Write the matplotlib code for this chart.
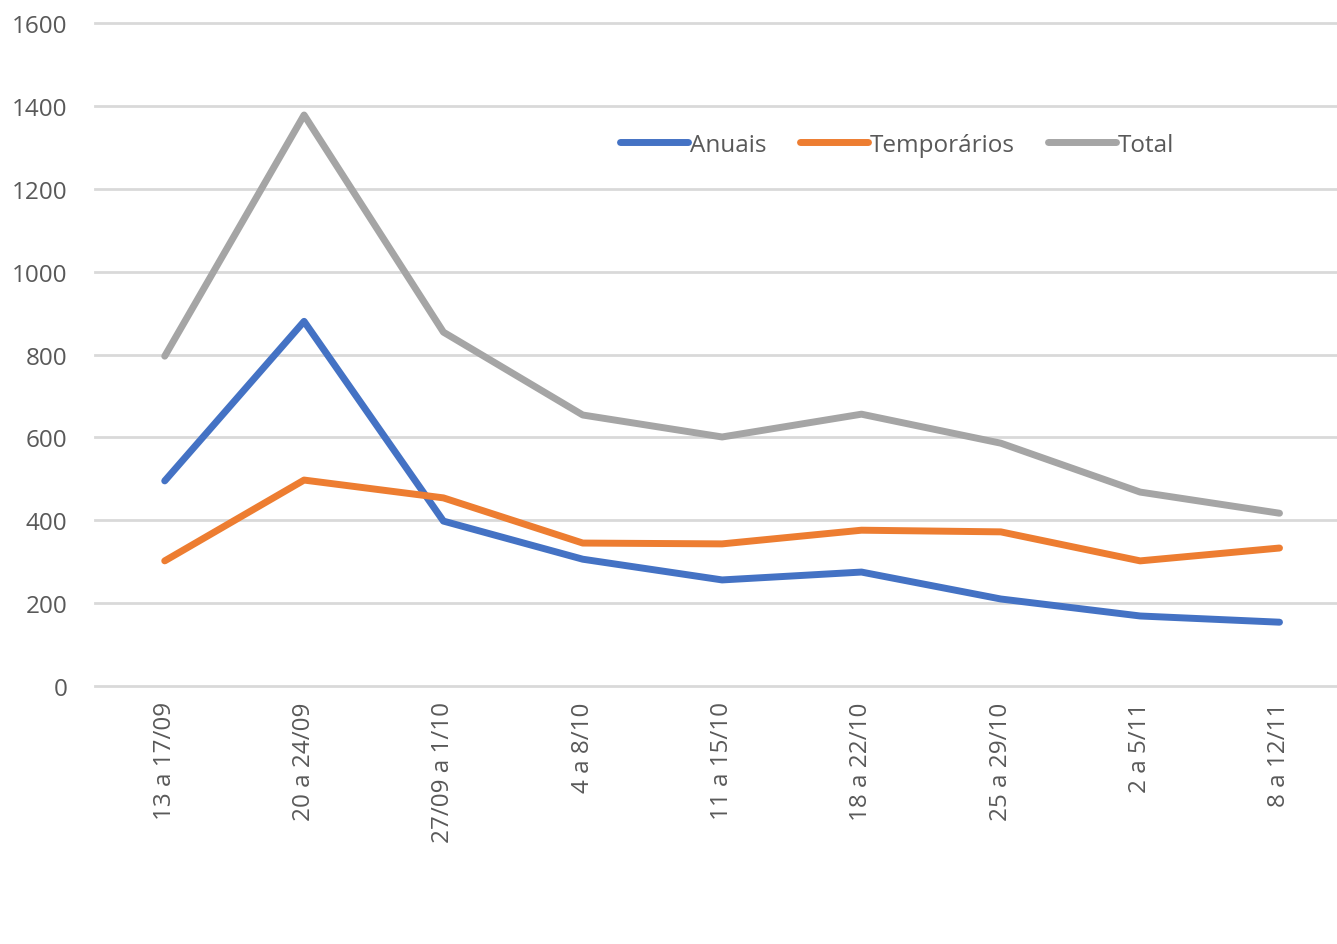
import matplotlib.pyplot as plt

# weekly data
semanas = ['13 a 17/09', '20 a 24/09', '27/09 a 1/10', '4 a 8/10', '11 a 15/10',
           '18 a 22/10', '25 a 29/10', '2 a 5/11', '8 a 12/11']
anuais = [495, 880, 398, 306, 256, 275, 210, 169, 154]
temporarios = [302, 497, 454, 345, 343, 376, 372, 302, 333]
total = [796, 1378, 854, 654, 601, 656, 586, 468, 417]

plt.rcParams['font.family'] = ['Open Sans', 'DejaVu Sans']
txt_color = '#595959'

fig = plt.figure(figsize=(13.37, 9.45), dpi=100)
ax = fig.add_axes([0.0711, 0.273, 0.938, 0.7016])

x = range(len(semanas))
ax.plot(x, anuais, color='#4472C4', lw=5, solid_capstyle='round', solid_joinstyle='round', label='Anuais', zorder=3)
ax.plot(x, temporarios, color='#ED7D31', lw=5, solid_capstyle='round', solid_joinstyle='round', label='Temporários', zorder=3)
ax.plot(x, total, color='#A5A5A5', lw=5, solid_capstyle='round', solid_joinstyle='round', label='Total', zorder=3)

ax.set_xlim(-0.5, len(semanas) - 0.5)
ax.set_ylim(0, 1600)
ax.set_yticks(range(0, 1601, 200))
ax.grid(axis='y', color='#D9D9D9', lw=2)
ax.set_axisbelow(True)
for gl in ax.get_ygridlines():
    gl.set_clip_on(False)
for s in ax.spines.values():
    s.set_visible(False)

ax.set_xticks(list(x))
ax.set_xticklabels(semanas, rotation=90, va='top')
ax.tick_params(axis='both', length=0, labelsize=17.5, labelcolor=txt_color)
ax.tick_params(axis='x', pad=11)
ax.tick_params(axis='y', pad=20)

leg = ax.legend(loc='center', bbox_to_anchor=(0.671, 0.846), bbox_transform=fig.transFigure,
                ncol=3, frameon=False, fontsize=17.5, handlelength=2.8, handletextpad=0.05,
                columnspacing=1.4)
for t in leg.get_texts():
    t.set_color(txt_color)

fig.savefig('out.png', dpi=100)
